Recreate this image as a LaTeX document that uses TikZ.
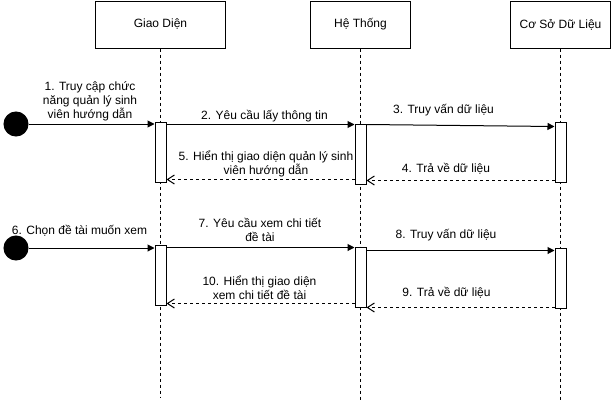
\documentclass[tikz,border=0pt]{standalone}
\usepackage{fontspec}
\setmainfont{Liberation Sans}
\usepackage{tikz}
\usetikzlibrary{arrows.meta,positioning}

\begin{document}
\begin{tikzpicture}
    [x=1pt,y=-1pt,line width=1pt,node distance=200pt,on grid,
     font=\fontsize{12}{14}\selectfont,
     lifebox/.style={draw,fill=white,minimum width=100pt,minimum height=47pt},
     act/.style={draw,fill=white,minimum width=11pt,minimum height=60pt,inner sep=0pt},
     initpt/.style={circle,draw,fill=black,minimum size=24pt,inner sep=0pt},
     lifeline/.style={dash pattern=on 3pt off 3pt},
     msg/.style={-{Triangle[length=7pt,width=7pt]}},
     ret/.style={-{Straight Barb[length=7pt,width=9pt]},dash pattern=on 3pt off 3pt},
     lbl/.style={align=center,inner sep=0pt}]
\useasboundingbox (0,0) rectangle (611,402);

\node[lifebox,minimum width=130pt](gd) at (160.5,24.5){Giao Diện};
\node[lifebox](ht)[right = of gd]{Hệ Thống};
\node[lifebox](csdl)[right = of ht]{Cơ Sở Dữ Liệu};

\coordinate (gdend) at (160.5,397);
\coordinate (htend) at (360.5,402);
\coordinate (csdlend) at (560.5,402);
\draw[lifeline] (gd) -- (gdend);
\draw[lifeline] (ht) -- (htend);
\draw[lifeline] (csdl) -- (csdlend);

\node[act](gd1) at (160.5,152){};
\node[act](ht1) at (360.5,154){};
\node[act](db1) at (560.5,152){};
\node[act](gd2) at (160.5,275){};
\node[act](ht2) at (360.5,277){};
\node[act](db2) at (560.5,278){};

\node[initpt](s1) at (16,124){};
\node[initpt](s2) at (16,248){};

\node[lbl](l1) at (90,101.5){1. Truy cập chức\\năng quản lý sinh\\viên hướng dẫn};
\node[lbl](l2) at (264.5,116.5){2. Yêu cầu lấy thông tin};
\node[lbl](l3) at (443.5,110.5){3. Truy vấn dữ liệu};
\node[lbl](l4) at (446,169){4. Trả về dữ liệu};
\node[lbl](l5) at (266,163.5){5. Hiển thị giao diện quản lý sinh\\viên hướng dẫn};
\node[lbl](l6) at (79.5,230.5){6. Chọn đề tài muốn xem};
\node[lbl](l7) at (260,230){7. Yêu cầu xem chi tiết\\đề tài};
\node[lbl](l8) at (446,235){8. Truy vấn dữ liệu};
\node[lbl](l9) at (446.5,292.5){9. Trả về dữ liệu};
\node[lbl](l10) at (259.5,287.5){10. Hiển thị giao diện\\xem chi tiết đề tài};

\draw[msg] (s1) -- (s1 -| gd1.west);
\draw[msg] ([yshift=-1pt]ht1.north -| gd1.east) -- ([yshift=-1pt]ht1.north west);
\draw[msg] ([yshift=-1pt]ht1.north east) -- ([yshift=-5pt]db1.north west);
\draw[ret] ([yshift=2pt]db1.south west) -- ([yshift=2pt]db1.south west -| ht1.east);
\draw[ret] ([yshift=5pt]ht1.south west) -- ([yshift=5pt]ht1.south west -| gd1.east);

\draw[msg] (s2) -- (s2 -| gd2.west);
\draw[msg] ([yshift=-1pt]ht2.north -| gd2.east) -- ([yshift=-1pt]ht2.north west);
\draw[msg] ([yshift=-4pt]ht2.north east) -- ([yshift=-3pt]db2.north west);
\draw[ret] ([yshift=1pt]db2.south west) -- ([yshift=1pt]db2.south west -| ht2.east);
\draw[ret] ([yshift=4pt]ht2.south west) -- ([yshift=4pt]ht2.south west -| gd2.east);
\end{tikzpicture}
\end{document}
